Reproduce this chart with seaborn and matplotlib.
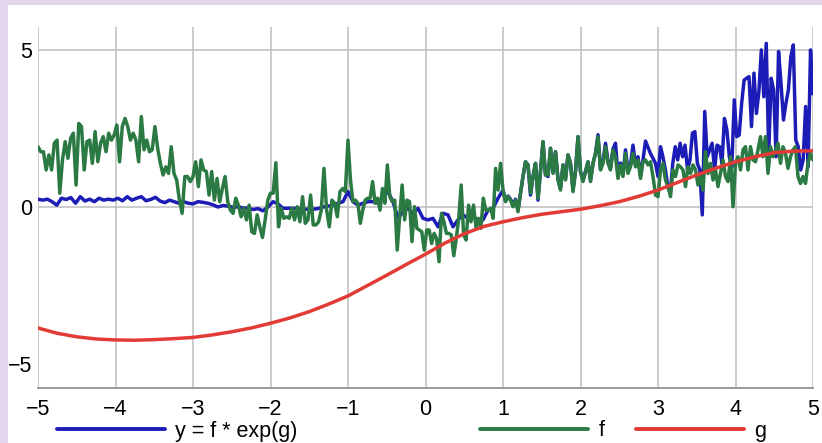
import numpy as np
import pandas as pd
import matplotlib
matplotlib.use("Agg")
import matplotlib.pyplot as plt
from matplotlib.lines import Line2D
from matplotlib.patches import Rectangle
import seaborn as sns

# ---------------- data ----------------
seg_edges = [-5, -3, -1, 1, 3, 5]

f_seg1 = [1.92, 1.76, 1.76, 1.18, 1.66, 1.18, 2.03, 2.13, 0.44, 1.5, 2.08, 1.55, 2.19, 2.35, 0.7,
          2.66, 2.56, 1.18, 2.08, 2.13, 1.39, 2.4, 1.44, 2.03, 2.24, 1.76, 2.35, 2.13, 2.29, 2.61,
          1.44, 2.56, 2.82, 2.56, 2.13, 2.35, 2.13, 1.44, 2.88, 1.82, 2.13, 1.76, 1.82, 2.56, 1.87,
          1.39, 1.02, 1.28, 1.07, 1.92, 1.07, 0.86, 0.22, -0.2, 0.97, 0.97, 0.81]
f_seg2 = [0.97, 1.44, 0.65, 1.5, 1.18, 1.13, 0.38, 1.13, 0.22, 0.91, 0.17, 0.59, 0.97, 0.17, -0.1,
          -0.2, 0.28, 0.06, -0.31, -0.04, -0.41, 0.06, -0.79, -0.84, -0.25, -0.63, -0.97, -0.41, 0.22,
          0.44, 0.44, 1.41, -0.63, -0.04, -0.36, -0.31, -0.36, -0.04, -0.41, 0.01, -0.47, 0.33, -0.52,
          -0.41, 0.38, -0.57, -0.57, -0.47, -0.1, 1.23, -0.1, -0.63, 0.22, 0.12, -0.31, 0.49, 0.59, 0.49]
f_seg3 = [2.13, 0.86, 0.17, 0.22, 0.12, -0.52, -0.1, 0.22, 0.28, 0.28, 0.81, 0.12, 0.28, -0.1, 0.59,
          0.12, 1.34, 0.33, 0.17, 0.22, -1.37, -0.31, 0.7, -0.41, 0.22, 0.17, -1.1, 0.01, -0.68, -0.73,
          -0.79, -1.37, -0.73, -0.73, -1.16, -0.84, -1.0, -1.74, -0.2, -0.47, -0.84, -0.84, -0.89, -1.55,
          -1.0, -0.36, 0.7, -0.89, -1.05, 0.06, -0.47, 0.06, -0.63, -0.36, -0.68, 0.28, -0.1, -0.1, -0.04,
          -0.36, 1.23, 0.54, 1.39]
f_seg4 = [0.54, 0.17, 0.33, 0.22, 0.01, 0.22, -0.15, 0.44, 0.97, 1.44, 1.34, 0.44, 0.97, 1.39, 0.28,
          1.13, 2.08, 1.02, 1.02, 1.87, 1.07, 1.76, 0.86, 0.54, 1.34, 0.86, 1.66, 1.39, 0.49, 1.13, 2.24,
          1.13, 0.81, 1.13, 1.44, 0.81, 1.39, 1.71, 2.24, 1.18, 1.39, 1.92, 1.39, 1.18, 1.82, 1.6, 0.91,
          1.34, 0.97, 1.71, 1.07, 1.28, 1.71, 1.28, 1.5, 0.91, 1.44, 1.5, 1.34, 1.44, 0.97, 0.38]
f_seg5 = [0.33, 1.18, 1.39, 0.86, 0.65, 0.33, 1.18, 0.97, 1.34, 1.28, 1.18, 0.65, 1.28, 1.07, 1.34,
          1.18, 0.7, 0.97, 0.54, 1.76, 1.07, 1.39, 0.86, 1.18, 0.65, 1.07, 1.5, 0.97, 0.81, 1.6, 0.01,
          1.39, 1.6, 1.18, 1.82, 1.92, 1.18, 1.92, 1.5, 1.44, 1.82, 2.24, 1.6, 2.24, 1.07, 1.92, 1.6,
          1.82, 2.03, 1.39, 1.92, 1.71, 1.23, 1.6, 1.82, 1.92, 0.97, 0.75, 0.97, 0.75, 1.39, 1.71, 1.5]

y_seg1 = [0.25, 0.22, 0.25, 0.17, 0.06, 0.28, 0.24, 0.3, 0.12, 0.33, 0.19, 0.25, 0.17, 0.28, 0.22,
          0.25, 0.22, 0.28, 0.2, 0.33, 0.22, 0.28, 0.33, 0.2, 0.24, 0.31, 0.19, 0.14, 0.22, 0.17, 0.12,
          0.17, 0.12]
y_seg2 = [0.1, 0.17, 0.15, 0.12, 0.07, 0.0, 0.05, 0.03, -0.01, 0.01, -0.03, -0.04, -0.08, -0.05,
          -0.12, 0.0, 0.17, 0.1, -0.04, -0.04, -0.04, -0.06, -0.07, -0.07, -0.07, -0.05, 0.0, 0.03,
          0.05, 0.12, 0.17]
y_seg3 = [0.49, 0.17, 0.06, 0.12, 0.17, 0.17, 0.12, 0.33, 0.49, 0.17, -0.36, -0.15, -0.04, -0.2,
          -0.04, -0.36, -0.41, -0.36, -0.63, -0.2, -0.25, -0.63, -0.41, -0.25, -0.36, -0.31, -0.41,
          -0.41, -0.1, -0.04, 0.28]
y_seg4 = [0.54, 0.2, 0.35, 0.25, 0.05, 0.25, -0.1, 0.44, 0.97, 1.44, 1.34, 0.38, 0.97, 1.39, 0.22,
          1.13, 2.08, 1.02, 0.97, 1.87, 1.1, 1.76, 0.9, 0.6, 1.34, 0.9, 1.66, 1.39, 0.55, 1.13, 2.24,
          1.13, 0.85, 1.13, 1.44, 0.85, 1.39, 1.71, 2.3, 1.2, 1.45, 2.03, 1.45, 1.25, 1.85, 2.03, 1.0,
          1.4, 1.05, 1.82, 1.15, 1.35, 1.97, 1.35, 1.6, 1.0, 1.5, 2.1, 1.9, 1.7, 1.55, 1.39]
y_seg5 = [0.97, 1.92, 1.6, 1.18, 0.65, 0.44, 1.39, 1.92, 1.5, 2.03, 1.6, 1.97, 1.18, 1.5, 2.35, 2.4,
          1.39, 1.18, -0.25, 3.04, 1.6, 1.82, 2.03, 1.18, 1.97, 1.92, 1.39, 2.82, 2.45, 1.6, 1.28, 3.41,
          2.24, 2.29, 3.3, 4.04, 4.1, 4.15, 2.56, 4.26, 2.98, 3.67, 5.0, 3.51, 5.21, 1.71, 4.1, 3.73,
          1.6, 4.95, 3.94, 2.77, 3.3, 3.73, 4.79, 5.16, 2.13, 1.92, 1.18, 1.5, 3.2, 1.28, 5.0, 3.6]

g_x = [-5.0, -4.75, -4.5, -4.25, -4.0, -3.75, -3.5, -3.25, -3.0, -2.75, -2.5, -2.25, -2.0, -1.75,
       -1.5, -1.25, -1.0, -0.75, -0.5, -0.25, 0.0, 0.25, 0.5, 0.75, 1.0, 1.25, 1.5, 1.75, 2.0, 2.25,
       2.5, 2.75, 3.0, 3.25, 3.5, 3.75, 4.0, 4.25, 4.5, 4.75, 5.0]
g_vals = [-3.85, -4.02, -4.13, -4.2, -4.23, -4.24, -4.22, -4.19, -4.15, -4.07, -3.97, -3.85, -3.7,
          -3.53, -3.33, -3.09, -2.83, -2.5, -2.17, -1.83, -1.5, -1.15, -0.85, -0.62, -0.47, -0.34,
          -0.23, -0.15, -0.07, 0.04, 0.17, 0.34, 0.54, 0.78, 1.02, 1.24, 1.44, 1.6, 1.73, 1.78, 1.79]

x_ticks = [-5, -4, -3, -2, -1, 0, 1, 2, 3, 4, 5]
y_ticks = [-5, 0, 5]
labels = ["y = f * exp(g)", "f", "g"]


def seg_x(segs):
    xs = []
    for i, s in enumerate(segs):
        last = i == len(segs) - 1
        xs.append(np.linspace(seg_edges[i], seg_edges[i + 1], len(s), endpoint=last))
    return np.concatenate(xs)


f_all = np.concatenate([f_seg1, f_seg2, f_seg3, f_seg4, f_seg5])
fx = seg_x([f_seg1, f_seg2, f_seg3, f_seg4, f_seg5])
y_all = np.concatenate([y_seg1, y_seg2, y_seg3, y_seg4, y_seg5])
yx = seg_x([y_seg1, y_seg2, y_seg3, y_seg4, y_seg5])

df_y = pd.DataFrame({"x": yx, "v": y_all})
df_f = pd.DataFrame({"x": fx, "v": f_all})
df_g = pd.DataFrame({"x": g_x, "v": g_vals})

# ---------------- styling ----------------
sns.set_theme(style="white")
plt.rcParams["font.family"] = ["Liberation Sans", "DejaVu Sans"]
plt.rcParams["text.color"] = "black"

BLUE = "#1c1cb6"
GREEN = "#2b7a43"
RED = "#e23b36"
LAV = "#e1d6ec"
GRID = "#bdbdbd"
FS = 15.5

W, H = 822, 443
fig = plt.figure(figsize=(W / 100, H / 100), dpi=100)
fig.patch.set_facecolor(LAV)
fig.patches.append(Rectangle((8 / W, 0), 1 - 8 / W, 1 - 5 / H, transform=fig.transFigure,
                             facecolor="white", edgecolor="none", zorder=-5))

ax = fig.add_axes([38 / W, 1 - 388 / H, (813 - 38) / W, (388 - 27) / H])
ax.set_facecolor("none")
ax.set_zorder(2)

sns.lineplot(data=df_y, x="x", y="v", ax=ax, color=BLUE, linewidth=2.5, sort=False,
             estimator=None, zorder=3)
sns.lineplot(data=df_f, x="x", y="v", ax=ax, color=GREEN, linewidth=2.5, sort=False,
             estimator=None, zorder=4)
sns.lineplot(data=df_g, x="x", y="v", ax=ax, color=RED, linewidth=2.5, sort=False,
             estimator=None, zorder=5)

ax.set_xlim(-5, 5)
ax.set_ylim(-5.76, 5.73)
ax.set_xticks(x_ticks)
ax.set_yticks(y_ticks)
ax.set_xlabel("")
ax.set_ylabel("")
ax.grid(True, color=GRID, linewidth=1.1)
ax.set_axisbelow(True)
# no horizontal grid line at -5 in the reference
ax.yaxis.get_gridlines()[0].set_visible(False)

for s in ["top", "right", "left"]:
    ax.spines[s].set_visible(False)
ax.spines["bottom"].set_color("#9a9a9a")
ax.spines["bottom"].set_linewidth(1.4)

ax.tick_params(axis="both", direction="in", length=5, width=1.1, color="#9a9a9a",
               labelsize=FS, labelcolor="black")
ax.tick_params(axis="x", pad=8)
ax.tick_params(axis="y", pad=4)

# legend: three separate entries placed under the plot
entries = [(BLUE, labels[0], 57), (GREEN, labels[1], 480), (RED, labels[2], 636)]
for col, lab, xpix in entries:
    h = Line2D([], [], color=col, linewidth=2.8)
    leg = fig.legend([h], [lab], loc="center left", bbox_to_anchor=(xpix / W, 1 - 431 / H),
                     frameon=False, borderpad=0, borderaxespad=0, handlelength=5.0,
                     handletextpad=0.5, fontsize=FS, labelcolor="black")

fig.savefig("out.png", dpi=100, facecolor=fig.get_facecolor())
